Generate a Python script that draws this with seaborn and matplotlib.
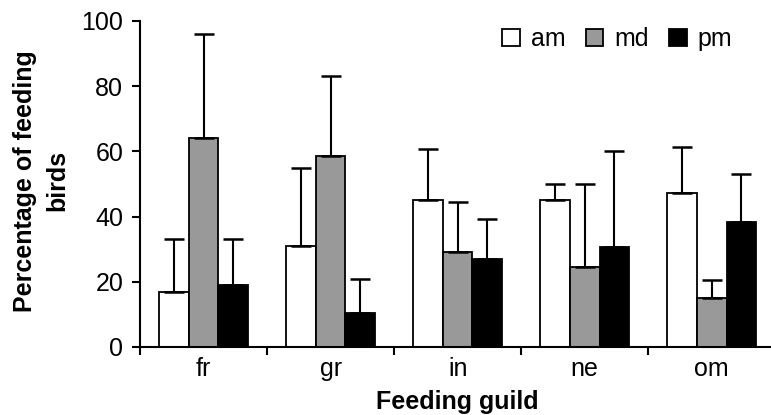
import matplotlib
matplotlib.use("Agg")
import matplotlib.pyplot as plt
import seaborn as sns
import pandas as pd

guilds = ["fr", "gr", "in", "ne", "om"]
periods = ["am", "md", "pm"]
am_mean = [17, 31, 45, 45, 47.3]
md_mean = [64, 58.5, 29, 24.6, 15]
pm_mean = [19, 10.5, 27, 30.6, 38.4]
am_top = [33, 55, 60.7, 50, 61.5]
md_top = [96, 83, 44.5, 50, 20.5]
pm_top = [33, 21, 39.3, 60, 53]

means = {"am": am_mean, "md": md_mean, "pm": pm_mean}
tops = {"am": am_top, "md": md_top, "pm": pm_top}

rows = []
for p in periods:
    for g, m in zip(guilds, means[p]):
        rows.append({"guild": g, "period": p, "pct": m})
df = pd.DataFrame(rows)

sns.set_style("ticks")
plt.rcParams["font.family"] = ["Liberation Sans", "DejaVu Sans"]
plt.rcParams["text.color"] = "black"
plt.rcParams["axes.labelcolor"] = "black"
plt.rcParams["xtick.color"] = "black"
plt.rcParams["ytick.color"] = "black"

fig = plt.figure(figsize=(7.71, 4.15), dpi=100)
ax = fig.add_axes([0.1816, 0.1639, 0.824, 0.7855])

sns.barplot(
    df,
    x="guild",
    y="pct",
    hue="period",
    hue_order=periods,
    order=guilds,
    palette={"am": "white", "md": "#999999", "pm": "black"},
    edgecolor="black",
    linewidth=1.3,
    width=0.7,
    errorbar=None,
    ax=ax,
)

for cont, p in zip(ax.containers, periods):
    for bar, top in zip(cont, tops[p]):
        x = bar.get_x() + bar.get_width() / 2
        h = bar.get_height()
        ax.errorbar(
            x, h, yerr=[[0], [top - h]], fmt="none", ecolor="black",
            elinewidth=1.5, capsize=7, capthick=1.8, zorder=1,
        )

ax.set_ylim(0, 100)
ax.set_xlim(-0.5, 4.5)
ax.set_yticks([0, 20, 40, 60, 80, 100])
ax.set_xticks(range(5))
ax.set_xticklabels(guilds)
ax.set_xticks([-0.5, 0.5, 1.5, 2.5, 3.5], minor=True)
ax.tick_params(axis="x", which="major", length=0, pad=7, labelsize=18)
ax.tick_params(axis="x", which="minor", length=6, width=1.5, direction="out")
ax.tick_params(axis="y", length=6, width=1.5, labelsize=18, pad=6)
sns.despine(ax=ax)
for s in ["left", "bottom"]:
    ax.spines[s].set_linewidth(1.5)
    ax.spines[s].set_color("black")

ax.set_xlabel("Feeding guild", fontsize=18, fontweight="bold", labelpad=7)
ax.set_ylabel("Percentage of feeding\nbirds", fontsize=18, fontweight="bold",
              labelpad=6, linespacing=1.4)
ax.yaxis.set_label_coords(-0.112, 0.51)

ax.legend(
    loc="upper right", bbox_to_anchor=(0.968, 1.05), ncol=3, frameon=False,
    fontsize=18, handlelength=0.7, handleheight=0.7, handletextpad=0.45,
    columnspacing=0.8,
)

fig.savefig("out.png", dpi=100)
